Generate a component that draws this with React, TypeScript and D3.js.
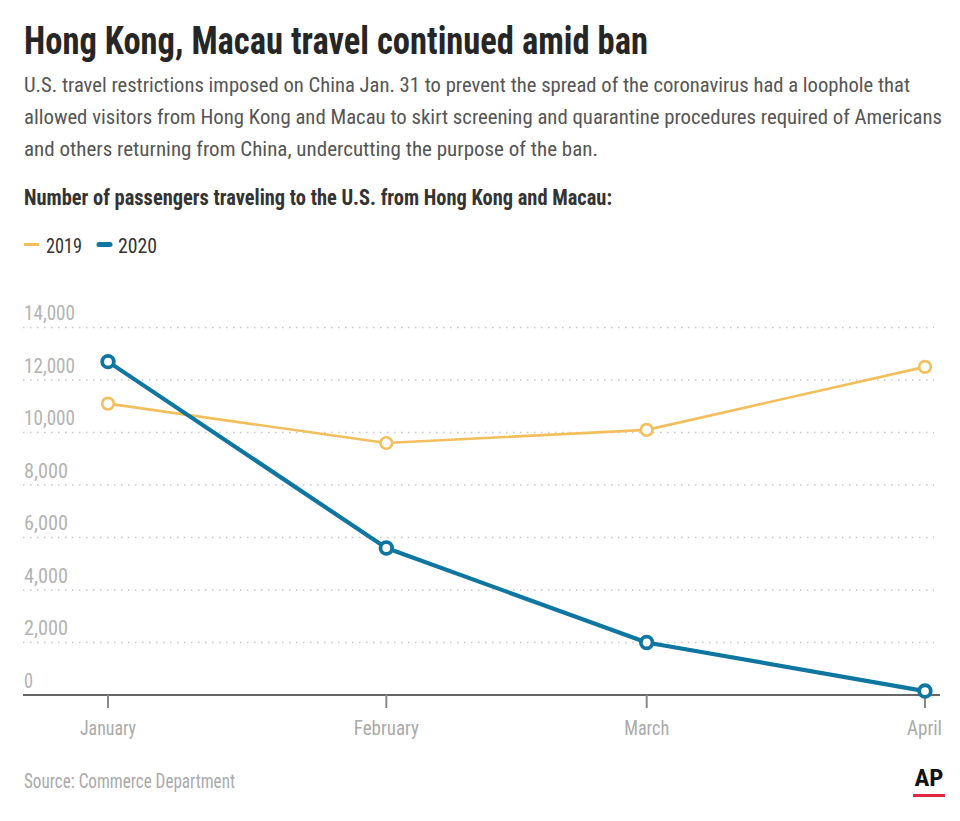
import React from "react";
import * as d3 from "d3";

const months = ["January", "February", "March", "April"];
const monthDates = ["2020-01-01", "2020-02-01", "2020-03-01", "2020-04-01"];
const values2019 = [11100, 9600, 10100, 12500];
const values2020 = [12700, 5600, 2000, 150];
const yTicks = [0, 2000, 4000, 6000, 8000, 10000, 12000, 14000];
const seriesNames = ["2019", "2020"];
const seriesColors = ["#f2bf5c", "#0e76a0"];

const W = 960;
const H = 821;
const FONT = "'Roboto Condensed', 'Liberation Sans Narrow', 'DejaVu Sans Condensed', Roboto, sans-serif";

export default function App() {
  const parse = d3.timeParse("%Y-%m-%d");
  const dates = monthDates.map((d) => parse(d) as Date);
  const x = d3.scaleTime().domain([dates[0], dates[dates.length - 1]]).range([108, 925]);
  const y = d3.scaleLinear().domain([0, 14000]).range([695, 327.5]);
  const fmt = d3.format(",");

  const line = d3
    .line<number>()
    .x((_, i) => x(dates[i]))
    .y((v) => y(v));

  const series = [
    { name: seriesNames[0], values: values2019, color: seriesColors[0], lw: 2.6, mw: 2.6 },
    { name: seriesNames[1], values: values2020, color: seriesColors[1], lw: 4.2, mw: 3.8 },
  ];

  const xLabelW = [56, 65, 45, 35];

  return (
    <svg
      width={W}
      height={H}
      style={{ position: "absolute", left: 0, top: 0, background: "#fff", fontFamily: FONT }}
    >
      <rect width={W} height={H} fill="#fff" />
      <text x={24} y={54} fontSize={39} fontWeight={700} fill="#262626" textLength={624} lengthAdjust="spacingAndGlyphs">
        Hong Kong, Macau travel continued amid ban
      </text>
      <g fontSize={20.2} fill="#555">
        <text x={24} y={92} textLength={886} lengthAdjust="spacingAndGlyphs">
          U.S. travel restrictions imposed on China Jan. 31 to prevent the spread of the coronavirus had a loophole that
        </text>
        <text x={24} y={124} textLength={918} lengthAdjust="spacingAndGlyphs">
          allowed visitors from Hong Kong and Macau to skirt screening and quarantine procedures required of Americans
        </text>
        <text x={24} y={156} textLength={574} lengthAdjust="spacingAndGlyphs">
          and others returning from China, undercutting the purpose of the ban.
        </text>
      </g>
      <text x={24} y={205} fontSize={21.5} fontWeight={700} fill="#333" textLength={588} lengthAdjust="spacingAndGlyphs">
        Number of passengers traveling to the U.S. from Hong Kong and Macau:
      </text>

      {/* legend */}
      <line x1={24} x2={39} y1={244.5} y2={244.5} stroke={seriesColors[0]} strokeWidth={3} />
      <text x={46} y={252.5} fontSize={20.5} fill="#333" textLength={36} lengthAdjust="spacingAndGlyphs">
        {seriesNames[0]}
      </text>
      <line x1={99} x2={110} y1={244.5} y2={244.5} stroke={seriesColors[1]} strokeWidth={5} strokeLinecap="round" />
      <text x={118} y={252.5} fontSize={20.5} fill="#333" textLength={39} lengthAdjust="spacingAndGlyphs">
        {seriesNames[1]}
      </text>

      {/* grid + y labels */}
      {yTicks.map((t) => (
        <g key={t}>
          {t > 0 && (
            <line x1={23} x2={934} y1={y(t)} y2={y(t)} stroke="#c8c8c8" strokeWidth={1.5} strokeDasharray="1.5 5.5" />
          )}
          <text x={24} y={y(t) - 7.5} fontSize={20.5} fill="#b3b3b3" textLength={t === 0 ? 9 : t >= 10000 ? 51 : 44} lengthAdjust="spacingAndGlyphs">
            {fmt(t)}
          </text>
        </g>
      ))}

      {/* x axis */}
      <line x1={23} x2={940} y1={695} y2={695} stroke="#666" strokeWidth={2} />
      {dates.map((d, i) => (
        <g key={months[i]}>
          <line x1={x(d)} x2={x(d)} y1={695} y2={708} stroke="#888" strokeWidth={2} />
          <text
            x={i === dates.length - 1 ? 942 : x(d)}
            y={735}
            fontSize={20.5}
            fill="#aaa"
            textAnchor={i === dates.length - 1 ? "end" : "middle"}
            textLength={xLabelW[i]}
            lengthAdjust="spacingAndGlyphs"
          >
            {months[i]}
          </text>
        </g>
      ))}

      {/* lines */}
      {series.map((s) => (
        <g key={s.name}>
          <path d={line(s.values) || ""} fill="none" stroke={s.color} strokeWidth={s.lw} strokeLinejoin="round" />
          {s.values.map((v, i) => (
            <circle key={i} cx={x(dates[i])} cy={y(v)} r={5.8} fill="#fff" stroke={s.color} strokeWidth={s.mw} />
          ))}
        </g>
      ))}

      {/* footer */}
      <text x={24} y={788} fontSize={19.5} fill="#aaa" textLength={211} lengthAdjust="spacingAndGlyphs">
        Source: Commerce Department
      </text>
      <text x={929} y={786} fontSize={23} fontWeight={700} fill="#111" textAnchor="middle" textLength={29} lengthAdjust="spacingAndGlyphs">
        AP
      </text>
      <rect x={913} y={794} width={32} height={3} fill="#e3263f" />
    </svg>
  );
}
